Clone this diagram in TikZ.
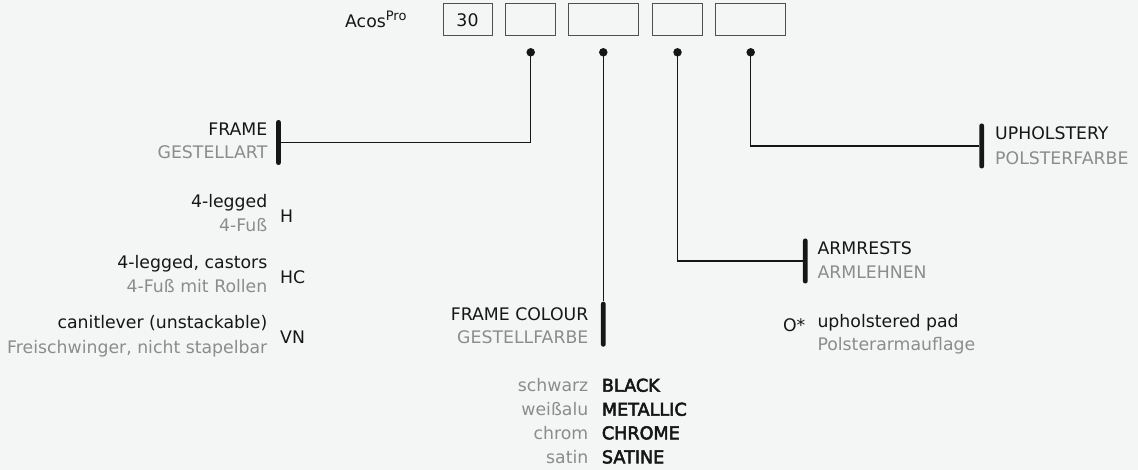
\documentclass[tikz,border=0pt]{standalone}
\usepackage{fontspec}
\setmainfont{DejaVu Sans}
\newfontfamily\semibold[FakeBold=3]{DejaVu Sans}
\usetikzlibrary{positioning}
\definecolor{paper}{HTML}{F4F5F5}
\definecolor{ink}{HTML}{161616}
\definecolor{muted}{HTML}{8C8C8C}
\definecolor{rim}{HTML}{505050}
\tikzset{
  codebox/.style={draw=rim, line width=1pt, minimum height=32pt, inner sep=0pt, text=ink},
  pin/.style={circle, fill=ink, inner sep=0pt, minimum size=8.5pt},
  bar/.style={fill=ink, rounded corners=2.3pt, minimum width=4.8pt, minimum height=45pt, inner sep=0pt},
  link/.style={draw=ink, line width=1.1pt},
  en/.style={text=ink, inner sep=0pt},
  de/.style={text=muted, inner sep=0pt},
  pick/.style={text=ink, inner sep=0pt, font=\fontsize{17.6}{20}\semibold}
}

\begin{document}
\begin{tikzpicture}[x=1pt, y=-1pt, font=\fontsize{17.3}{20}\selectfont]
  \path[use as bounding box, fill=paper] (0,0) rectangle (1138,470);

  \node[en, anchor=base west] (acos) at (345,27.3) {Acos\raisebox{6.6pt}{\fontsize{13}{12}\selectfont Pro}};
  \node[codebox, minimum width=49pt] (b1) at (467.5,20) {30};
  \node[codebox, minimum width=50pt] (b2) at (530.7,20) {};
  \node[codebox, minimum width=70pt] (b3) at (603.3,20) {};
  \node[codebox, minimum width=50pt] (b4) at (677.5,20) {};
  \node[codebox, minimum width=70pt] (b5) at (750.7,20) {};

  \node[pin] (p2) at (530.7,52.3) {};
  \node[pin] (p3) at (603.3,52.3) {};
  \node[pin] (p4) at (677.5,52.3) {};
  \node[pin] (p5) at (750.7,52.3) {};

  \node[bar] (framebar) at (278.5,142.5) {};
  \node[bar] (colourbar) at (603.3,324.2) {};
  \node[bar] (armbar) at (805.3,261) {};
  \node[bar] (upholbar) at (981.7,146) {};

  \draw[link] (p2.center) |- (framebar);
  \draw[link] (p3.center) -- (colourbar);
  \draw[link] (p4.center) |- (armbar);
  \draw[link] (p5.center) |- (upholbar);

  \node[en, anchor=base east] (frame) at (267.5,135.7) {FRAME};
  \node[de, anchor=base east] (frame-de) at (267.5,158.3) {GESTELLART};

  \node[en, anchor=base east] (legs) at (267.5,207.3) {4-legged};
  \node[de, anchor=base east] (legs-de) at (267.5,231.7) {4-Fuß};
  \node[en, anchor=base west] (legs-code) at (280,222.7) {H};
  \node[en, anchor=base east] (castors) at (267.5,268.3) {4-legged, castors};
  \node[de, anchor=base east] (castors-de) at (267.5,292.7) {4-Fuß mit Rollen};
  \node[en, anchor=base west] (castors-code) at (280,283.3) {HC};
  \node[en, anchor=base east] (lever) at (267.5,328.3) {canitlever (unstackable)};
  \node[de, anchor=base east] (lever-de) at (267.5,353.3) {Freischwinger, nicht stapelbar};
  \node[en, anchor=base west] (lever-code) at (280,344) {VN};

  \node[en, anchor=base east] (colour) at (588.5,320.7) {FRAME COLOUR};
  \node[de, anchor=base east] (colour-de) at (588.5,343.3) {GESTELLFARBE};
  \node[de, anchor=base east] (black-de) at (588.5,391.7) {schwarz};
  \node[pick, anchor=base west] (black) at (601.7,391.7) {BLACK};
  \node[de, anchor=base east] (metal-de) at (588.5,415.7) {weißalu};
  \node[pick, anchor=base west] (metal) at (601.7,415.7) {METALLIC};
  \node[de, anchor=base east] (chrome-de) at (588.5,439.3) {chrom};
  \node[pick, anchor=base west] (chrome) at (601.7,439.3) {CHROME};
  \node[de, anchor=base east] (satin-de) at (588.5,463.3) {satin};
  \node[pick, anchor=base west] (satin) at (601.7,463.3) {SATINE};

  \node[en, anchor=base west] (arm) at (817.3,254.3) {ARMRESTS};
  \node[de, anchor=base west] (arm-de) at (817.3,278.3) {ARMLEHNEN};
  \node[en, anchor=base east] (pad-code) at (805.5,332) {O*};
  \node[en, anchor=base west] (pad) at (817.3,328) {upholstered pad};
  \node[de, anchor=base west] (pad-de) at (817.3,350.5) {Polsterarmauflage};

  \node[en, anchor=base west] (uphol) at (995,140) {UPHOLSTERY};
  \node[de, anchor=base west] (uphol-de) at (995,164.3) {POLSTERFARBE};
\end{tikzpicture}
\end{document}
